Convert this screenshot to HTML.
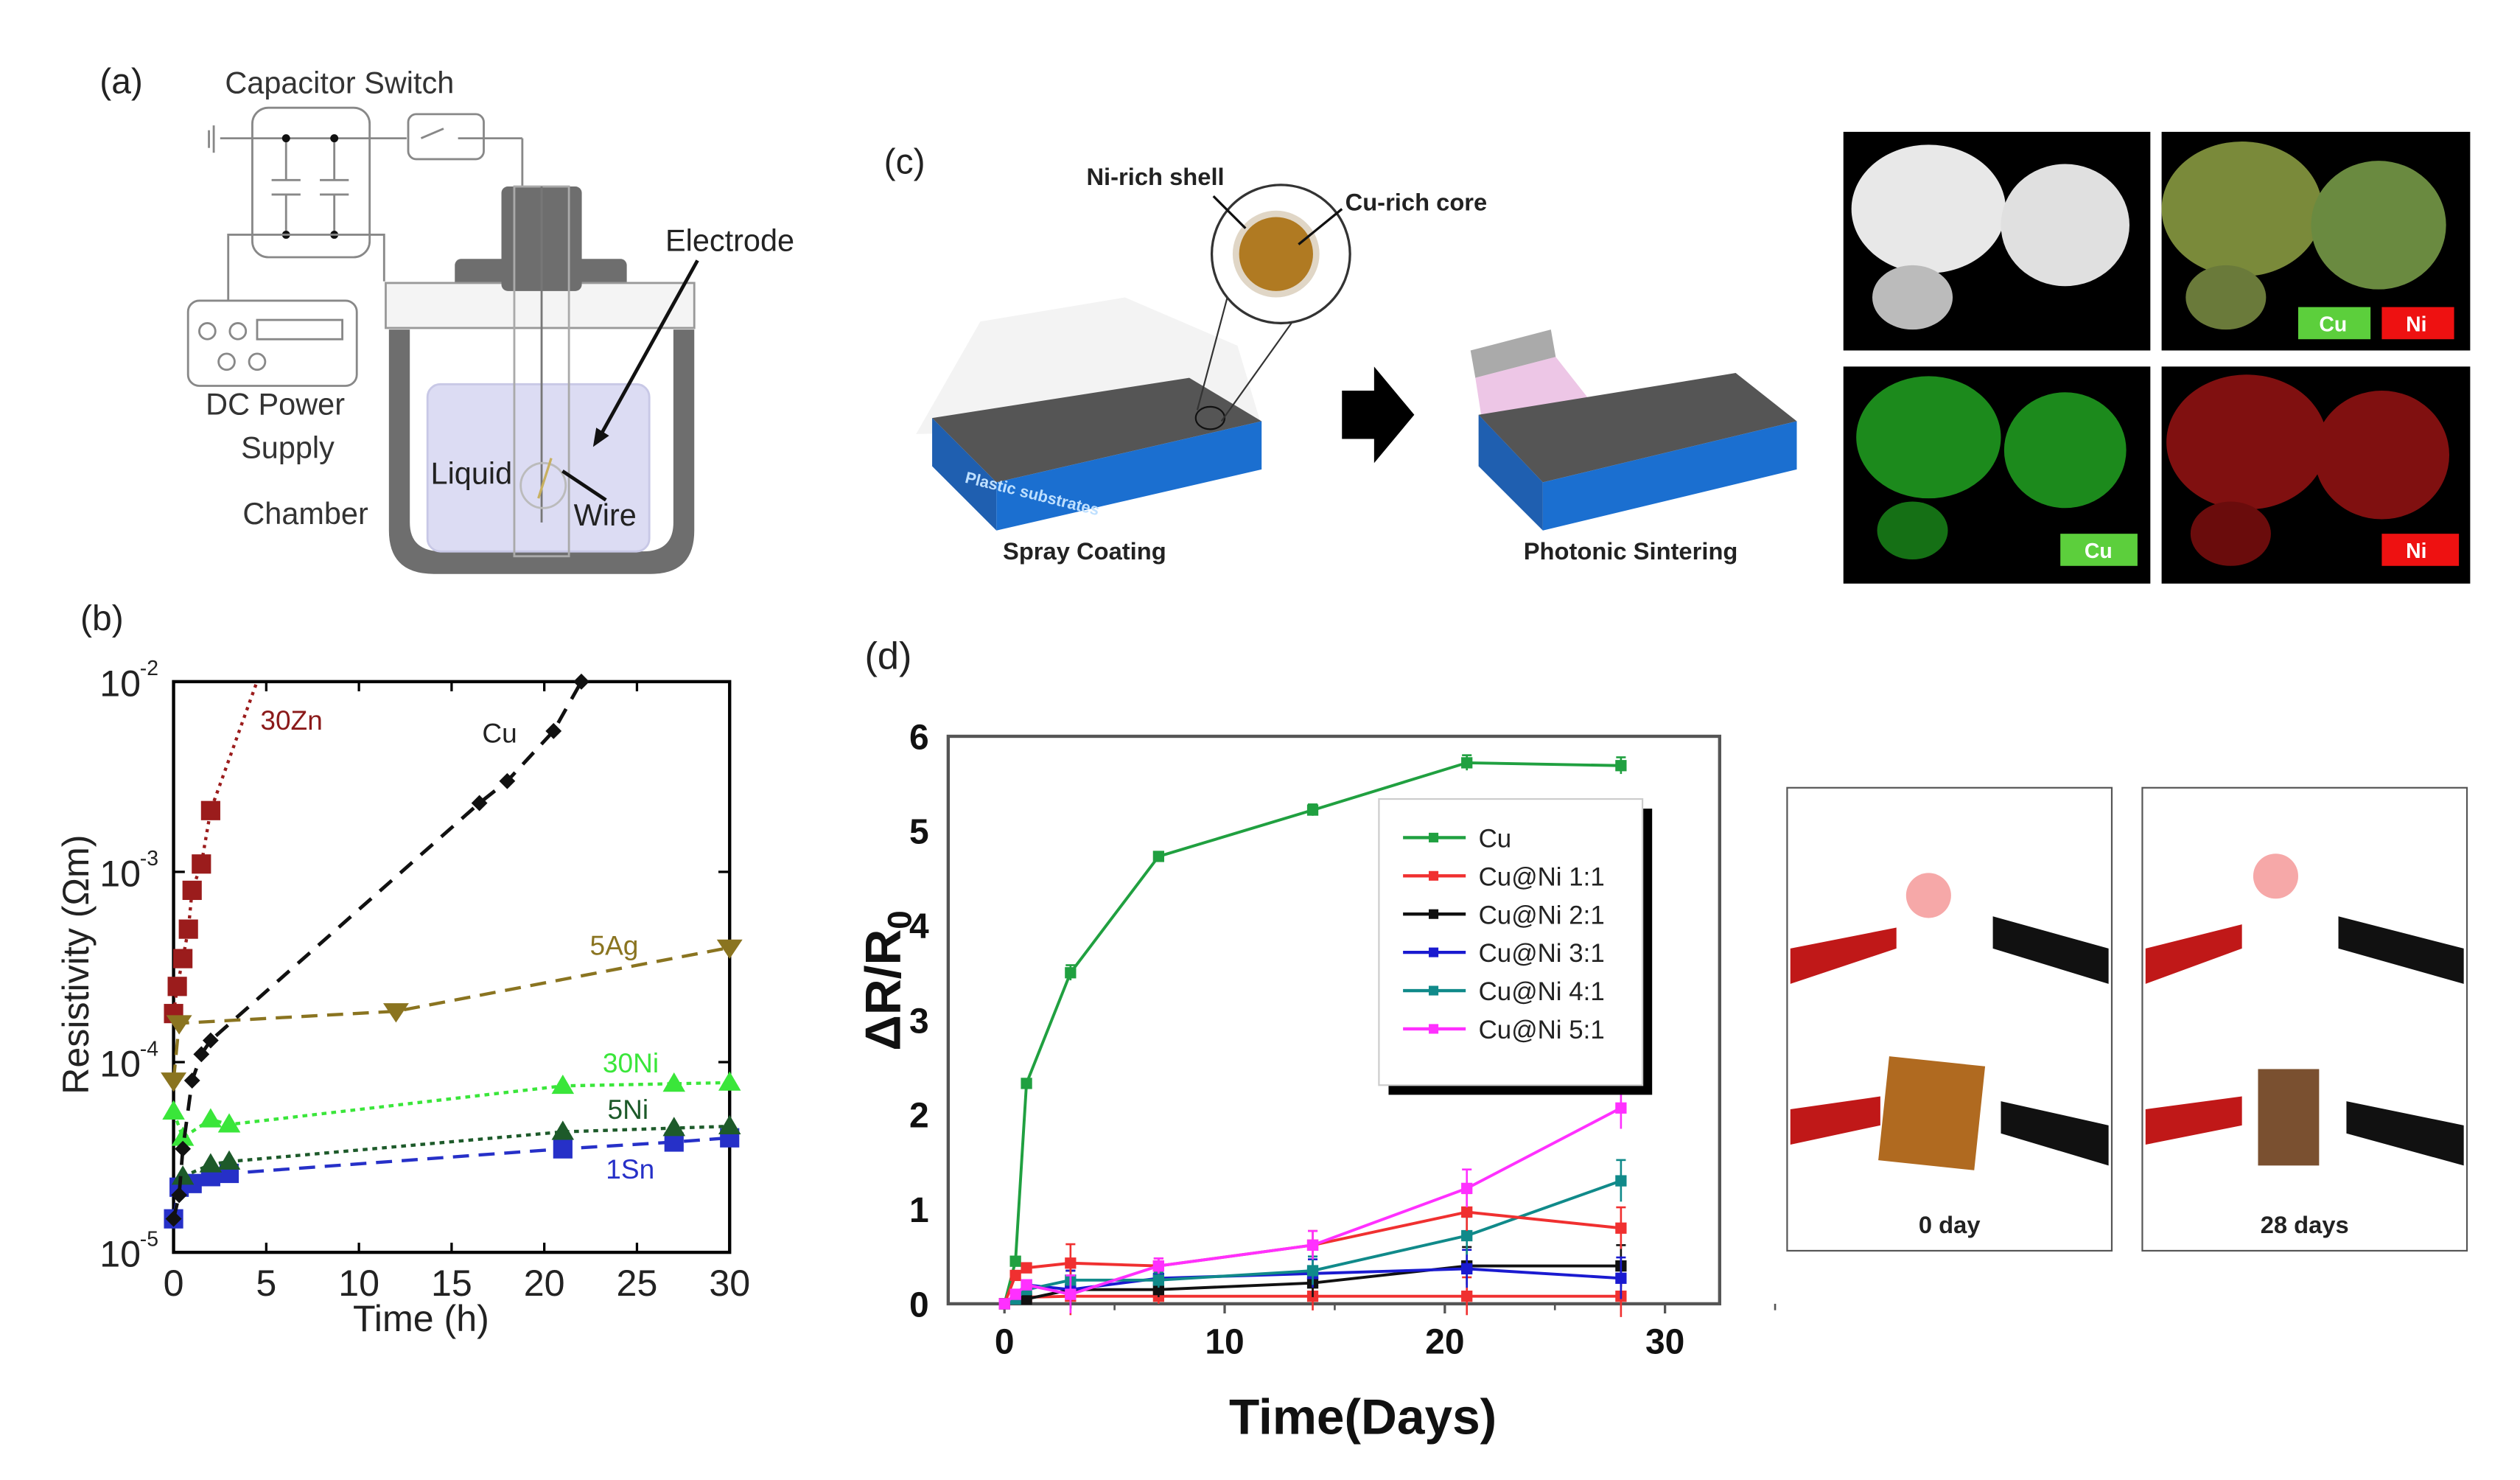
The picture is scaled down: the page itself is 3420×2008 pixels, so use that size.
<!DOCTYPE html>
<html><head><meta charset="utf-8"><style>
html,body{margin:0;padding:0;background:#fff;}
svg{display:block;font-family:"Liberation Sans",Arial,sans-serif;}
</style></head><body>
<svg id="fig" width="3420" height="2008" viewBox="0 0 1568 920.6" xmlns="http://www.w3.org/2000/svg">
<rect width="1568" height="921" fill="#fff"/>

<!-- Panel a -->
<g fill="none" stroke="#888" stroke-width="1.3">
  <text x="62" y="58" font-size="22" fill="#222" stroke="none">(a)</text>
  <text x="140" y="58" font-size="19" fill="#333" stroke="none">Capacitor Switch</text>
  <rect x="157" y="67" width="73" height="93" rx="10"/>
  <rect x="254" y="71" width="47" height="28" rx="5"/>
  <line x1="137" y1="86" x2="253" y2="86"/><line x1="262" y1="86" x2="276" y2="80"/><line x1="285" y1="86" x2="325" y2="86"/>
  <line x1="325" y1="86" x2="325" y2="117"/>
  <line x1="133" y1="78" x2="133" y2="95"/><line x1="130" y1="81" x2="130" y2="92"/>
  <line x1="178" y1="86" x2="178" y2="112"/><line x1="169" y1="112" x2="187" y2="112"/><line x1="169" y1="121" x2="187" y2="121"/><line x1="178" y1="121" x2="178" y2="146"/>
  <line x1="208" y1="86" x2="208" y2="112"/><line x1="199" y1="112" x2="217" y2="112"/><line x1="199" y1="121" x2="217" y2="121"/><line x1="208" y1="121" x2="208" y2="146"/>
  <circle cx="178" cy="86" r="2.5" fill="#111" stroke="none"/><circle cx="208" cy="86" r="2.5" fill="#111" stroke="none"/>
  <circle cx="178" cy="146" r="2.5" fill="#111" stroke="none"/><circle cx="208" cy="146" r="2.5" fill="#111" stroke="none"/>
  <polyline points="142,187 142,146 239,146 239,175"/>
  <rect x="117" y="187" width="105" height="53" rx="7"/>
  <circle cx="129" cy="206" r="5"/><circle cx="148" cy="206" r="5"/><circle cx="141" cy="225" r="5"/><circle cx="160" cy="225" r="5"/>
  <rect x="160" y="199" width="53" height="12"/>
  <text x="128" y="258" font-size="19" fill="#333" stroke="none">DC Power</text>
  <text x="150" y="285" font-size="19" fill="#333" stroke="none">Supply</text>
  <text x="151" y="326" font-size="19" fill="#333" stroke="none">Chamber</text>
  <path d="M242 205 L242 330 Q242 357 270 357 L405 357 Q432 357 432 330 L432 205 L419 205 L419 325 Q419 343 400 343 L275 343 Q255 343 255 325 L255 205 Z" fill="#6e6e6e" stroke="none"/>
  <rect x="266" y="239" width="138" height="104" rx="8" fill="#dcdcf3" stroke="#c8c8e6"/>
  <rect x="283" y="161" width="107" height="20" rx="4" fill="#6e6e6e" stroke="none"/>
  <rect x="240" y="176" width="192" height="28" fill="#f4f4f4" stroke="#999"/>
  <rect x="312" y="116" width="50" height="65" rx="4" fill="#6e6e6e" stroke="none"/>
  <rect x="320" y="116" width="34" height="230" fill="none" stroke="#aaa"/>
  <line x1="337" y1="116" x2="337" y2="325" stroke="#777"/>
  <circle cx="338" cy="302" r="14" fill="none" stroke="#bbb"/>
  <line x1="335" y1="310" x2="343" y2="285" stroke="#c8b060" stroke-width="1.5"/>
  <text x="414" y="156" font-size="19" fill="#222" stroke="none">Electrode</text>
  <line x1="434" y1="162" x2="373" y2="272" stroke="#111" stroke-width="2.2"/>
  <polygon points="369,278 371,266 379,271" fill="#111" stroke="none"/>
  <text x="268" y="301" font-size="19" fill="#222" stroke="none">Liquid</text>
  <text x="357" y="327" font-size="19" fill="#222" stroke="none">Wire</text>
  <line x1="377" y1="311" x2="350" y2="293" stroke="#111" stroke-width="2.2"/>
</g>

<!-- Panel c -->
<g>
  <text x="550" y="108" font-size="22" fill="#222">(c)</text>
  <polygon points="570,270 610,200 700,185 770,215 785,265" fill="#f0f0f0" opacity="0.8"/>
  <polygon points="580,260 740,235 785,262 620,300" fill="#555"/>
  <polygon points="580,260 620,300 620,330 580,290" fill="#1f5fb0"/>
  <polygon points="620,300 785,262 785,292 620,330" fill="#1b6fd0"/>
  <text x="600" y="300" font-size="10" fill="#bfe0ff" font-weight="bold" transform="rotate(14 600 300)">Plastic substrates</text>
  <ellipse cx="753" cy="260" rx="9" ry="7" fill="none" stroke="#111"/>
  <line x1="745" y1="255" x2="765" y2="180" stroke="#333"/><line x1="760" y1="262" x2="815" y2="185" stroke="#333"/>
  <circle cx="797" cy="158" r="43" fill="#fff" stroke="#333" stroke-width="1.5"/>
  <circle cx="794" cy="158" r="27" fill="#e0d6c6"/>
  <circle cx="794" cy="158" r="23" fill="#b07a22"/>
  <text x="676" y="115" font-size="15" font-weight="bold" fill="#222">Ni-rich shell</text>
  <text x="837" y="131" font-size="15" font-weight="bold" fill="#222">Cu-rich core</text>
  <line x1="755" y1="122" x2="775" y2="142" stroke="#111" stroke-width="1.5"/><line x1="835" y1="130" x2="808" y2="152" stroke="#111" stroke-width="1.5"/>
  <text x="624" y="348" font-size="15" font-weight="bold" fill="#222">Spray Coating</text>
  <polygon points="835,243 855,243 855,228 880,258 855,288 855,273 835,273" fill="#000"/>
  <polygon points="915,218 965,205 968,222 918,235" fill="#aaa"/>
  <polygon points="918,235 968,222 990,250 925,280" fill="#e8b8e0" opacity="0.8"/>
  <polygon points="920,258 1080,232 1118,262 960,300" fill="#555"/>
  <polygon points="920,258 960,300 960,330 920,290" fill="#1f5fb0"/>
  <polygon points="960,300 1118,262 1118,292 960,330" fill="#1b6fd0"/>
  <text x="948" y="348" font-size="15" font-weight="bold" fill="#222">Photonic Sintering</text>
  <rect x="1147" y="82" width="191" height="136" fill="#000"/>
  <ellipse cx="1200" cy="130" rx="48" ry="40" fill="#e8e8e8"/><ellipse cx="1285" cy="140" rx="40" ry="38" fill="#e0e0e0"/><ellipse cx="1190" cy="185" rx="25" ry="20" fill="#bbb"/>
  <rect x="1345" y="82" width="192" height="136" fill="#000"/>
  <ellipse cx="1395" cy="130" rx="50" ry="42" fill="#7a8a3a"/><ellipse cx="1480" cy="140" rx="42" ry="40" fill="#6a8a40"/><ellipse cx="1385" cy="185" rx="25" ry="20" fill="#6a7a3a"/>
  <rect x="1430" y="191" width="45" height="20" fill="#5ccf3c"/><text x="1443" y="206" font-size="13" fill="#fff" font-weight="bold">Cu</text>
  <rect x="1482" y="191" width="45" height="20" fill="#ee1111"/><text x="1497" y="206" font-size="13" fill="#fff" font-weight="bold">Ni</text>
  <rect x="1147" y="228" width="191" height="135" fill="#000"/>
  <ellipse cx="1200" cy="272" rx="45" ry="38" fill="#1c8a1c"/><ellipse cx="1285" cy="280" rx="38" ry="36" fill="#1c8a1c"/><ellipse cx="1190" cy="330" rx="22" ry="18" fill="#157015"/>
  <rect x="1282" y="332" width="48" height="20" fill="#5ccf3c"/><text x="1297" y="347" font-size="13" fill="#fff" font-weight="bold">Cu</text>
  <rect x="1345" y="228" width="192" height="135" fill="#000"/>
  <ellipse cx="1398" cy="275" rx="50" ry="42" fill="#801010"/><ellipse cx="1482" cy="283" rx="42" ry="40" fill="#801010"/><ellipse cx="1388" cy="332" rx="25" ry="20" fill="#6a0c0c"/>
  <rect x="1482" y="332" width="48" height="20" fill="#ee1111"/><text x="1497" y="347" font-size="13" fill="#fff" font-weight="bold">Ni</text>
</g>

<!-- Panel e photos -->
<g>
  <rect x="1112" y="490" width="202" height="288" fill="#fff" stroke="#555"/>
  <rect x="1333" y="490" width="202" height="288" fill="#fff" stroke="#555"/>
  <polygon points="1114,590 1180,577 1180,590 1114,612" fill="#c01818"/><polygon points="1240,570 1312,590 1312,612 1240,590" fill="#111"/>
  <circle cx="1200" cy="557" r="14" fill="#f6a8a8"/>
  <polygon points="1114,690 1170,682 1170,700 1114,712" fill="#c01818"/><polygon points="1245,685 1312,700 1312,725 1245,705" fill="#111"/>
  <rect x="1172" y="660" width="60" height="65" fill="#b06a20" transform="rotate(6 1202 692)"/>
  <polygon points="1335,590 1395,575 1395,590 1335,612" fill="#c01818"/><polygon points="1455,570 1533,590 1533,612 1455,590" fill="#111"/>
  <circle cx="1416" cy="545" r="14" fill="#f6a8a8"/>
  <polygon points="1335,690 1395,682 1395,700 1335,712" fill="#c01818"/><polygon points="1460,685 1533,700 1533,725 1460,705" fill="#111"/>
  <rect x="1405" y="665" width="38" height="60" fill="#7a5030"/>
  <text x="1213" y="767" font-size="15" font-weight="bold" text-anchor="middle" fill="#222">0 day</text>
  <text x="1434" y="767" font-size="15" font-weight="bold" text-anchor="middle" fill="#222">28 days</text>
</g>

<g id="chartB"></g>
<g id="chartD"></g>
</svg>
<script>
// ---------- Panel b data ----------
const bXTicks = [0,5,10,15,20,25,30];
const bYExp = [-5,-4,-3,-2];
const cuT = [0,0.3,0.5,1,1.5,2,16.5,18,20.5,22];
const cuR = [1.5e-5,2e-5,3.5e-5,8e-5,1.1e-4,1.3e-4,2.3e-3,3e-3,5.5e-3,1e-2];
const znT = [0,0.2,0.5,0.8,1,1.5,2,4.5];
const znR = [1.8e-4,2.5e-4,3.5e-4,5e-4,8e-4,1.1e-3,2.1e-3,1e-2];
const agT = [0,0.3,12,30];
const agR = [8e-5,1.6e-4,1.85e-4,4e-4];
const ni30T = [0,0.5,2,3,21,27,30];
const ni30R = [5.5e-5,4e-5,5e-5,4.7e-5,7.5e-5,7.7e-5,7.8e-5];
const ni5T = [0.5,2,3,21,27,30];
const ni5R = [2.5e-5,2.9e-5,3e-5,4.3e-5,4.5e-5,4.6e-5];
const snT = [0,0.3,1,2,3,21,27,30];
const snR = [1.5e-5,2.2e-5,2.3e-5,2.5e-5,2.6e-5,3.5e-5,3.8e-5,4e-5];

// ---------- Panel d data ----------
const dDays = [0,0.5,1,3,7,14,21,28];
const dCu = [0,0.45,2.33,3.5,4.73,5.22,5.72,5.69];
const d11 = [0,0.3,0.38,0.43,0.4,0.62,0.97,0.8];
const d11b = [0,0.05,0.07,0.08,0.08,0.08,0.08,0.08];
const d21 = [0,0.05,0.05,0.15,0.15,0.22,0.4,0.4];
const d31 = [0,0.1,0.2,0.15,0.27,0.32,0.37,0.27];
const d41 = [0,0.05,0.15,0.25,0.25,0.35,0.72,1.3];
const d51 = [0,0.1,0.2,0.1,0.4,0.62,1.22,2.07];
const dErr = [0,0.03,0.05,0.2,0.08,0.15,0.2,0.22];
const dXTicks = [0,10,20,30];
const dYTicks = [0,1,2,3,4,5,6];
const dLegend = ["Cu","Cu@Ni 1:1","Cu@Ni 2:1","Cu@Ni 3:1","Cu@Ni 4:1","Cu@Ni 5:1"];

const NS="http://www.w3.org/2000/svg";
function mk(parent,tag,attrs,text){const e=document.createElementNS(NS,tag);for(const k in attrs)e.setAttribute(k,attrs[k]);if(text!==undefined)e.textContent=text;parent.appendChild(e);return e;}

// Panel b axes
const B={l:108,r:454,t:424,b:779};
const bx=t=>B.l+(t/30)*(B.r-B.l);
const by=v=>B.b-(Math.log10(v)+5)/3*(B.b-B.t);
const gb=document.getElementById('chartB');
let e;
e=mk(gb,'text',{x:50,y:392,'font-size':22,fill:'#222'},'(b)');


e=mk(gb,'rect',{x:B.l,y:B.t,width:B.r-B.l,height:B.b-B.t,fill:'none',stroke:'#000','stroke-width':2});


bXTicks.forEach(t=>{
  mk(gb,'line',{x1:bx(t),x2:bx(t),y1:B.b,y2:B.b-6,stroke:'#000','stroke-width':1.5});
  mk(gb,'line',{x1:bx(t),x2:bx(t),y1:B.t,y2:B.t+6,stroke:'#000','stroke-width':1.5});
  e=mk(gb,'text',{x:bx(t),y:B.b+27,'font-size':23,'text-anchor':'middle',fill:'#222'},String(t));
  
  
});
bYExp.forEach(p=>{
  const y=by(Math.pow(10,p));
  mk(gb,'line',{x1:B.l,x2:B.l+7,y1:y,y2:y,stroke:'#000','stroke-width':1.5});
  mk(gb,'line',{x1:B.r,x2:B.r-7,y1:y,y2:y,stroke:'#000','stroke-width':1.5});
  e=mk(gb,'text',{x:B.l-46,y:y+9,'font-size':23,fill:'#222'},'10');
  
  
  mk(gb,'text',{x:B.l-21,y:y-4,'font-size':13,fill:'#222'},String(p));
});
e=mk(gb,'text',{x:262,y:828,'font-size':23,'text-anchor':'middle',fill:'#222'},'Time (h)');


e=mk(gb,'text',{x:0,y:0,'font-size':23,'text-anchor':'middle',fill:'#222',transform:'translate(55,600) rotate(-90)'},'Resistivity (Ωm)');



function bSeries(T,R,color,dash,marker,name,w,skipLast){
  const g=mk(gb,'g',{});
  
  
  const pts=T.map((t,i)=>bx(t)+','+by(R[i])).join(' ');
  mk(g,'polyline',{points:pts,fill:'none',stroke:color,'stroke-width':w||2,'stroke-dasharray':dash});
  T.forEach((t,i)=>{
    if(skipLast && i===T.length-1) return;
    const x=bx(t),y=by(R[i]);let m;
    if(marker==='sq') m=mk(g,'rect',{x:x-6,y:y-6,width:12,height:12,fill:color});
    else if(marker==='dia') m=mk(g,'polygon',{points:`${x},${y-5} ${x+5},${y} ${x},${y+5} ${x-5},${y}`,fill:color});
    else if(marker==='tri') m=mk(g,'polygon',{points:`${x},${y-7} ${x+7},${y+5} ${x-7},${y+5}`,fill:color});
    else m=mk(g,'polygon',{points:`${x},${y+7} ${x+8},${y-5} ${x-8},${y-5}`,fill:color});
    
    
  });
}
bSeries(znT,znR,'#9b1c1c','2,3','sq','series-30zn',2,true);
bSeries(agT,agR,'#8a7420','10,6','tdown','series-5ag',2);
bSeries(snT,snR,'#2630c8','10,6','sq','series-1sn',2);
bSeries(ni5T,ni5R,'#1d5a2a','3,3','tri','series-5ni',2);
bSeries(ni30T,ni30R,'#3ae63a','3,3','tri','series-30ni',2);
bSeries(cuT,cuR,'#111','10,7','dia','series-cu-b',2.2);
const bLabels=[['30Zn',162,454,'#8b1a1a'],['Cu',300,462,'#222'],['5Ag',367,594,'#8a7420'],['30Ni',375,667,'#3ae63a'],['5Ni',378,696,'#1d5a2a'],['1Sn',377,733,'#2630c8']];
bLabels.forEach(l=>{e=mk(gb,'text',{x:l[1],y:l[2],'font-size':17,fill:l[3]},l[0]);

});

// Panel d
const D={l:590,r:1070,t:458,b:811};
const dx=t=>625+t*13.7;
const dy=v=>D.b-v*(D.b-D.t)/6;
const gd=document.getElementById('chartD');
e=mk(gd,'text',{x:538,y:416,'font-size':24,fill:'#222'},'(d)');


e=mk(gd,'rect',{x:D.l,y:D.t,width:D.r-D.l,height:D.b-D.t,fill:'none',stroke:'#555','stroke-width':2});


dXTicks.forEach(t=>{
  mk(gd,'line',{x1:dx(t),x2:dx(t),y1:D.b,y2:D.b+6,stroke:'#555','stroke-width':1.5});
  mk(gd,'line',{x1:dx(t+5),x2:dx(t+5),y1:D.b,y2:D.b+4,stroke:'#555','stroke-width':1.2});
  e=mk(gd,'text',{x:dx(t),y:D.b+31,'font-size':22,'font-weight':'bold','text-anchor':'middle',fill:'#111'},String(t));
  
  
});
dYTicks.forEach(v=>{
  e=mk(gd,'text',{x:D.l-12,y:dy(v)+8,'font-size':22,'font-weight':'bold','text-anchor':'end',fill:'#111'},String(v));
  
  
});
e=mk(gd,'text',{x:848,y:892,'font-size':31,'font-weight':'bold','text-anchor':'middle',fill:'#111'},'Time(Days)');


e=mk(gd,'text',{x:0,y:0,'font-size':31,'font-weight':'bold','text-anchor':'middle',fill:'#111',transform:'translate(560,610) rotate(-90)'},'ΔR/R');


mk(e,'tspan',{'font-size':21,dy:7},'0');

const dSeries=[[dCu,'#20a040','sq','series-cu-d'],[d11b,'#f03030','circ','series-cuni-1-1-low'],[d21,'#111','sq','series-cuni-2-1'],[d31,'#1a1ad0','tri','series-cuni-3-1'],[d41,'#108a8a','dia','series-cuni-4-1'],[d11,'#f03030','circ','series-cuni-1-1'],[d51,'#ff30ff','tdown','series-cuni-5-1']];
dSeries.forEach(s=>{
  const g=mk(gd,'g',{});
  
  
  mk(g,'polyline',{points:dDays.map((t,i)=>dx(t)+','+dy(s[0][i])).join(' '),fill:'none',stroke:s[1],'stroke-width':1.8});
  dDays.forEach((t,i)=>{
    const x=dx(t),y=dy(s[0][i]),er=dErr[i]*(s[3]==='series-cu-d'?0.4:1)*(D.b-D.t)/6;
    mk(g,'line',{x1:x,x2:x,y1:y-er,y2:y+er,stroke:s[1],'stroke-width':1.2});
    mk(g,'line',{x1:x-3,x2:x+3,y1:y-er,y2:y-er,stroke:s[1],'stroke-width':1.2});
    const m=mk(g,'rect',{x:x-3.5,y:y-3.5,width:7,height:7,fill:s[1]});
    
    
  });
});
// legend
const lg=mk(gd,'g',{});


mk(lg,'rect',{x:864,y:503,width:164,height:178,fill:'#000'});
mk(lg,'rect',{x:858,y:497,width:164,height:178,fill:'#fff',stroke:'#ccc'});
const lgColors=['#20a040','#f03030','#111','#1a1ad0','#108a8a','#ff30ff'];
dLegend.forEach((name,i)=>{
  const y=521+i*23.8;
  const it=mk(lg,'g',{});
  
  
  mk(it,'line',{x1:873,x2:912,y1:y,y2:y,stroke:lgColors[i],'stroke-width':2});
  mk(it,'rect',{x:889,y:y-3,width:6,height:6,fill:lgColors[i]});
  mk(it,'text',{x:920,y:y+6,'font-size':16,fill:'#222'},name);
});
</script>
</body></html>
